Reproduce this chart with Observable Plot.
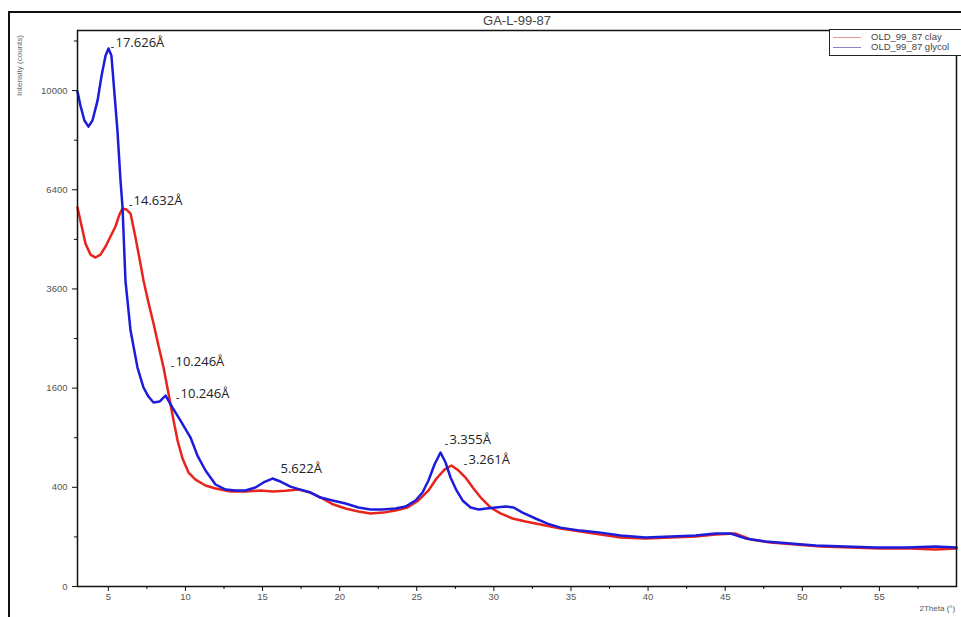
<!DOCTYPE html>
<html>
<head>
<meta charset="utf-8">
<script src="https://cdn.jsdelivr.net/npm/d3@7"></script>
<script src="https://cdn.jsdelivr.net/npm/@observablehq/plot@0.6"></script>
<style>
  body { margin: 0; background: #fff; }
  #wrap { position: relative; width: 961px; height: 617px; overflow: hidden; font-family: "Liberation Sans", Arial, sans-serif; }
  #outer { position: absolute; left: 8px; top: 11px; width: 1100px; height: 800px; border-left: 2px solid #111; border-top: 2px solid #111; }
  #chart { position: absolute; left: 0; top: 0; }
  #title { position: absolute; left: 417px; top: 13px; width: 200px; text-align: center; font-size: 13px; color: #444; }
  #legend { position: absolute; left: 829px; top: 29px; width: 131px; height: 25px; border: 1px solid #222; background: #fff; }
  .lline { position: absolute; left: 3px; width: 28px; height: 1px; }
  .ltext { position: absolute; left: 41px; font-size: 9.5px; color: #444; line-height: 9px; white-space: nowrap; }
</style>
</head>
<body>
<div id="wrap">
  <div id="outer"></div>
  <div id="chart"></div>
  <div id="title">GA-L-99-87</div>
  <div id="legend"></div>
</div>
<script>
// ---- data ----
const seriesNames = ["OLD_99_87 clay", "OLD_99_87 glycol"];
const seriesColors = ["#e8241c", "#1c1cdc"];
const legendColors = ["#e39a94", "#8585c8"];

// 2Theta (deg) and intensity (counts), clay
const clayX = [3.00, 3.26, 3.52, 3.84, 4.17, 4.49, 4.82, 5.14, 5.46, 5.72, 5.92, 6.18, 6.44, 6.76, 7.02, 7.28, 7.60, 7.93, 8.25, 8.58, 8.90, 9.23, 9.49, 9.81, 10.20, 10.65, 11.30, 11.95, 12.92, 13.89, 14.87, 15.64, 16.49, 17.33, 18.11, 18.76, 19.60, 20.38, 21.22, 22.00, 22.84, 23.62, 24.40, 25.11, 25.76, 26.28, 26.80, 27.25, 27.71, 28.16, 28.68, 29.20, 29.78, 30.43, 31.21, 32.05, 33.03, 34.32, 35.62, 36.92, 38.21, 39.84, 41.46, 43.08, 44.38, 45.68, 46.65, 47.94, 49.56, 51.19, 53.13, 55.07, 57.02, 58.64, 60.00];
const clayY = [5840, 5300, 4780, 4480, 4400, 4480, 4700, 4980, 5270, 5625, 5807, 5777, 5655, 4951, 4373, 3805, 3279, 2811, 2361, 1949, 1514, 1120, 866, 666, 528, 465, 415, 390, 367, 367, 375, 367, 372, 382, 359, 322, 273, 247, 229, 217, 222, 235, 254, 301, 375, 474, 556, 595, 547, 483, 390, 315, 254, 217, 188, 172, 156, 137, 123, 110, 98, 94, 98, 102, 110, 114, 90, 79, 72, 65, 62, 59, 59, 56, 59];

// glycol
const glycolX = [3.00, 3.19, 3.45, 3.71, 3.97, 4.30, 4.56, 4.82, 5.01, 5.20, 5.33, 5.59, 5.79, 5.92, 6.11, 6.44, 6.89, 7.28, 7.60, 7.93, 8.32, 8.71, 9.16, 9.68, 10.33, 10.78, 11.30, 11.95, 12.60, 13.25, 13.89, 14.54, 15.06, 15.64, 16.16, 16.81, 17.46, 18.11, 18.76, 19.54, 20.38, 21.22, 22.00, 22.78, 23.62, 24.27, 24.92, 25.37, 25.76, 26.15, 26.54, 26.87, 27.19, 27.58, 27.97, 28.49, 29.01, 29.52, 30.11, 30.76, 31.28, 31.86, 32.70, 33.48, 34.32, 35.62, 36.92, 38.21, 39.84, 41.46, 43.08, 44.38, 45.35, 46.32, 47.62, 49.24, 50.86, 52.81, 54.75, 56.70, 58.64, 60.00];
const glycolY = [9960, 9405, 8830, 8600, 8830, 9600, 10610, 11460, 11770, 11460, 10405, 8450, 6700, 5840, 3805, 2664, 1949, 1610, 1467, 1376, 1391, 1483, 1302, 1120, 902, 697, 547, 423, 382, 375, 375, 398, 440, 474, 448, 406, 382, 359, 322, 301, 280, 254, 241, 241, 247, 260, 301, 359, 457, 605, 730, 625, 483, 375, 301, 254, 241, 247, 254, 260, 254, 222, 188, 161, 141, 127, 118, 106, 98, 102, 106, 114, 114, 94, 82, 75, 68, 65, 62, 62, 65, 62];

// peak annotations (position of the small marker dash) and text
const annX = [5.27, 6.44, 9.16, 9.49, 15.97, 26.93, 28.16];
const annY = [11810, 5900, 1967, 1436, 519, 820, 605];
const annText = ["17.626Å", "14.632Å", "10.246Å", "10.246Å", "5.622Å", "3.355Å", "3.261Å"];
const annDash = [true, true, true, true, false, true, true];

// axes
const xMajor = [5, 10, 15, 20, 25, 30, 35, 40, 45, 50, 55];
const xMinor = [7.5, 12.5, 17.5, 22.5, 27.5, 32.5, 37.5, 42.5, 47.5, 52.5, 57.5];
const yMajor = [0, 400, 1600, 3600, 6400, 10000];
const yMinor = [100, 900, 2500, 4900, 8100, 12100];
const xDomain = [3, 60];
const yDomain = [0, 12570];
const xTitle = "2Theta (°)";
const yTitle = "Intensity (counts)";

const clay = clayX.map((x, i) => ({x, y: clayY[i]}));
const glycol = glycolX.map((x, i) => ({x, y: glycolY[i]}));
const ann = annX.map((x, i) => ({x, y: annY[i], text: annText[i], dash: annDash[i]}));

const font = "Liberation Sans, Arial, sans-serif";
const plot = Plot.plot({
  width: 961,
  height: 617,
  marginLeft: 77,
  marginRight: 5,
  marginTop: 30,
  marginBottom: 31,
  style: {fontFamily: font, background: "transparent"},
  x: {domain: xDomain},
  y: {type: "sqrt", domain: yDomain},
  marks: [
    Plot.line(clay, {x: "x", y: "y", stroke: seriesColors[0], strokeWidth: 2.5}),
    Plot.line(glycol, {x: "x", y: "y", stroke: seriesColors[1], strokeWidth: 2.5}),
    Plot.frame({stroke: "#111", strokeWidth: 1.5}),
    Plot.axisX({ticks: xMajor, tickSize: 5, text: null, stroke: "#111", label: null}),
    Plot.axisX({ticks: xMinor, tickSize: 3, text: null, stroke: "#111", label: null}),
    Plot.axisX({ticks: xMajor, tickSize: 0, tickPadding: 7, fill: "#555", fontSize: 9.5, label: null, tickFormat: d => String(d)}),
    Plot.axisY({ticks: yMajor, tickSize: 5, text: null, stroke: "#111", label: null}),
    Plot.axisY({ticks: yMinor, tickSize: 3, text: null, stroke: "#111", label: null}),
    Plot.axisY({ticks: yMajor, tickSize: 0, tickPadding: 10, fill: "#555", fontSize: 9.5, label: null, tickFormat: d => String(d)}),
    Plot.text([yTitle], {frameAnchor: "top-left", dx: -61, dy: 35, rotate: -90, text: d => d, fontSize: 8, fill: "#666", textAnchor: "middle"}),
    Plot.text([xTitle], {frameAnchor: "bottom-right", dx: -37, dy: 24, text: d => d, fontSize: 8, fill: "#555", textAnchor: "start"}),
    Plot.text(ann.filter(d => d.dash), {x: "x", y: "y", text: () => "-", fontSize: 10, fill: "#111", dy: -1}),
    Plot.text(ann, {x: "x", y: "y", text: "text", textAnchor: "start", dx: 3, dy: -5, fontSize: 13, fill: "#222", fontFamily: "Open Sans, Liberation Sans, sans-serif"})
  ]
});
document.getElementById("chart").appendChild(plot);

// legend
const legend = document.getElementById("legend");
seriesNames.forEach((name, i) => {
  const line = document.createElement("div");
  line.className = "lline";
  line.style.top = (7 + i * 10) + "px";
  line.style.background = legendColors[i];
  legend.appendChild(line);
  const t = document.createElement("div");
  t.className = "ltext";
  t.style.top = (2 + i * 10) + "px";
  t.textContent = name;
  legend.appendChild(t);
});
</script>
</body>
</html>
